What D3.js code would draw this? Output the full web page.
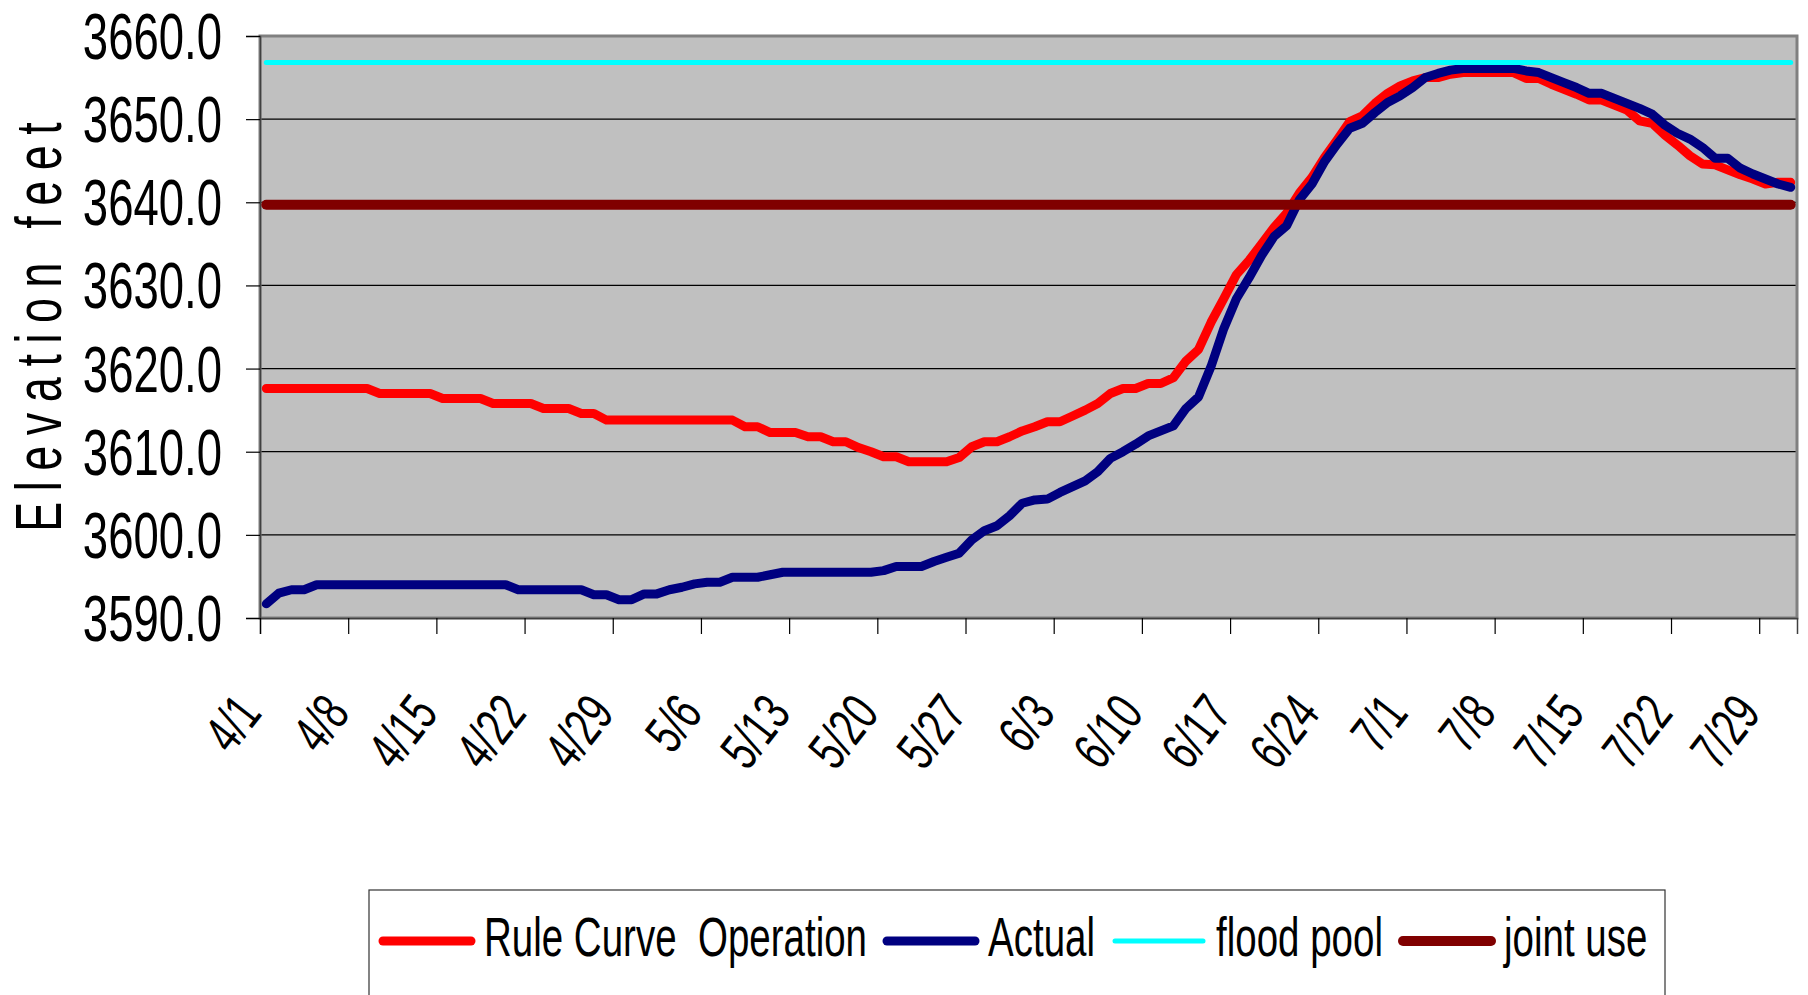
<!DOCTYPE html>
<html>
<head>
<meta charset="utf-8">
<script src="https://cdn.jsdelivr.net/npm/d3@7/dist/d3.min.js"></script>
<style>
  body { margin: 0; background: #fff; }
  text { font-family: "Liberation Sans", Arial, sans-serif; fill: #000; }
</style>
</head>
<body>
<div id="chart"></div>
<script>
// daily elevations, 4/1 .. 7/31
const ruleCurve = [
  3617.6,3617.6,3617.6,3617.6,3617.6,3617.6,3617.6,3617.6,3617.6,3617.0,
  3617.0,3617.0,3617.0,3617.0,3616.4,3616.4,3616.4,3616.4,3615.8,3615.8,
  3615.8,3615.8,3615.2,3615.2,3615.2,3614.6,3614.6,3613.8,3613.8,3613.8,
  3613.8,3613.8,3613.8,3613.8,3613.8,3613.8,3613.8,3613.8,3613.0,3613.0,
  3612.3,3612.3,3612.3,3611.8,3611.8,3611.2,3611.2,3610.5,3610.0,3609.4,
  3609.4,3608.8,3608.8,3608.8,3608.8,3609.3,3610.6,3611.2,3611.2,3611.8,
  3612.5,3613.0,3613.6,3613.6,3614.3,3615.0,3615.8,3617.0,3617.6,3617.6,
  3618.2,3618.2,3618.9,3620.9,3622.3,3625.6,3628.4,3631.3,3633.0,3635.0,
  3637.0,3638.7,3641.1,3643.0,3645.4,3647.5,3649.7,3650.4,3651.9,3653.1,
  3654.0,3654.6,3655.0,3655.0,3655.4,3655.6,3655.6,3655.6,3655.6,3655.6,
  3654.9,3654.9,3654.2,3653.6,3653.0,3652.3,3652.3,3651.7,3651.1,3649.8,
  3649.5,3648.1,3646.9,3645.6,3644.6,3644.5,3643.9,3643.3,3642.8,3642.2,
  3642.4,3642.4
];
const actual = [
  3591.7,3593.0,3593.4,3593.4,3594.0,3594.0,3594.0,3594.0,3594.0,3594.0,
  3594.0,3594.0,3594.0,3594.0,3594.0,3594.0,3594.0,3594.0,3594.0,3594.0,
  3593.4,3593.4,3593.4,3593.4,3593.4,3593.4,3592.8,3592.8,3592.2,3592.2,
  3592.9,3592.9,3593.4,3593.7,3594.1,3594.3,3594.3,3594.9,3594.9,3594.9,
  3595.2,3595.5,3595.5,3595.5,3595.5,3595.5,3595.5,3595.5,3595.5,3595.7,
  3596.2,3596.2,3596.2,3596.8,3597.3,3597.8,3599.4,3600.5,3601.1,3602.3,
  3603.8,3604.2,3604.3,3605.1,3605.8,3606.5,3607.6,3609.2,3610.0,3610.9,
  3611.9,3612.5,3613.1,3615.2,3616.6,3620.3,3624.8,3628.4,3630.9,3633.6,
  3635.9,3637.2,3640.3,3642.2,3644.9,3647.0,3648.9,3649.5,3650.8,3652.0,
  3652.8,3653.8,3655.0,3655.5,3655.9,3656.1,3656.1,3656.1,3656.1,3656.1,
  3655.8,3655.6,3655.0,3654.4,3653.8,3653.1,3653.1,3652.5,3651.9,3651.3,
  3650.6,3649.3,3648.3,3647.6,3646.6,3645.3,3645.3,3644.1,3643.4,3642.8,
  3642.2,3641.8
];
const floodPool = 3656.8;
const jointUse = 3639.7;

const firstDay = new Date(2006, 3, 1);
const days = d3.timeDay.range(firstDay, d3.timeDay.offset(firstDay, ruleCurve.length));

const tickLabels = ["4/1","4/8","4/15","4/22","4/29","5/6","5/13","5/20","5/27",
                    "6/3","6/10","6/17","6/24","7/1","7/8","7/15","7/22","7/29"];
const yTicks = [3590, 3600, 3610, 3620, 3630, 3640, 3650, 3660];

const seriesNames = ["Rule Curve  Operation", "Actual", "flood pool", "joint use"];
const seriesColors = ["#ff0000", "#000080", "#00ffff", "#800000"];
const seriesWidths = [9, 9, 5, 10];

const W = 1808, H = 995;
const margin = { top: 36, right: 11, bottom: 377, left: 260 };
const squeeze = 0.7;   // the original lettering is very narrow

const svg = d3.select("#chart").append("svg")
    .attr("width", W)
    .attr("height", H);

const x = d3.scaleLinear()
    .domain([0, days.length])
    .range([margin.left, W - margin.right]);
const y = d3.scaleLinear()
    .domain([3590, 3660])
    .range([H - margin.bottom, margin.top]);

const fmt = d3.timeFormat("%-m/%-d");
const tickIdx = tickLabels.map(l => days.findIndex(d => fmt(d) === l));

// plot area
svg.append("rect")
    .attr("x", x(0)).attr("y", y(3660))
    .attr("width", x(days.length) - x(0))
    .attr("height", y(3590) - y(3660))
    .attr("fill", "#c0c0c0");

svg.append("g")
    .selectAll("line")
    .data(yTicks.slice(1, -1))
    .enter().append("line")
        .attr("x1", x(0)).attr("x2", x(days.length))
        .attr("y1", d => y(d)).attr("y2", d => y(d))
        .attr("stroke", "#000")
        .attr("stroke-width", 1.2);

svg.append("rect")
    .attr("x", x(0)).attr("y", y(3660))
    .attr("width", x(days.length) - x(0))
    .attr("height", y(3590) - y(3660))
    .attr("fill", "none")
    .attr("stroke", "#808080")
    .attr("stroke-width", 3);

// axes
svg.append("g")
    .attr("transform", "translate(" + x(0) + ",0)")
    .call(d3.axisLeft(y).tickValues(yTicks).tickSize(14).tickFormat(""))
    .call(g => g.selectAll("line").attr("stroke", "#000").attr("stroke-width", 1.2))
    .call(g => g.select(".domain").attr("stroke", "#404040").attr("stroke-width", 1.5));

svg.append("g")
    .attr("transform", "translate(0," + y(3590) + ")")
    .call(d3.axisBottom(x).tickValues(tickIdx).tickSize(16).tickFormat(""))
    .call(g => g.selectAll("line").attr("stroke", "#000").attr("stroke-width", 1.2))
    .call(g => g.select(".domain").attr("stroke", "#404040").attr("stroke-width", 1.5));

// y tick labels
svg.append("g")
    .selectAll("text")
    .data(yTicks)
    .enter().append("text")
        .attr("transform", d => "translate(222," + (y(d) + 23) + ") scale(" + squeeze + ",1)")
        .attr("text-anchor", "end")
        .style("font-size", "65px")
        .text(d3.format(".1f"));

// x tick labels
svg.append("g")
    .selectAll("text")
    .data(tickIdx)
    .enter().append("text")
        .attr("transform", d => "translate(" + (x(d + 0.5) - 3) + ",714) rotate(-52) scale(" + squeeze + ",1)")
        .attr("text-anchor", "end")
        .style("font-size", "54px")
        .text((d, i) => tickLabels[i]);

// axis title
svg.append("text")
    .attr("transform", "translate(61," + ((y(3590) + y(3660)) / 2) + ") rotate(-90) scale(" + squeeze + ",1)")
    .attr("text-anchor", "middle")
    .attr("textLength", 585)
    .attr("lengthAdjust", "spacing")
    .style("font-size", "64px")
    .text("Elevation feet");

// series
let line = d3.line()
    .x((d, i) => x(i + 0.5))
    .y(d => y(d));

let series = [ruleCurve, actual,
              days.map(() => floodPool),
              days.map(() => jointUse)];

svg.append("g")
    .selectAll("path")
    .data(series)
    .enter().append("path")
        .attr("d", line)
        .attr("fill", "none")
        .attr("stroke", (d, i) => seriesColors[i])
        .attr("stroke-width", (d, i) => seriesWidths[i])
        .attr("stroke-linejoin", "round")
        .attr("stroke-linecap", "round");

// legend
svg.append("rect")
    .attr("x", 369).attr("y", 890)
    .attr("width", 1296).attr("height", 140)
    .attr("fill", "#fff")
    .attr("stroke", "#333")
    .attr("stroke-width", 1.2);

let lx = 383;
seriesNames.forEach(function(name, i) {
    svg.append("line")
        .attr("x1", lx).attr("x2", lx + 88)
        .attr("y1", 941).attr("y2", 941)
        .attr("stroke", seriesColors[i])
        .attr("stroke-width", seriesWidths[i])
        .attr("stroke-linecap", "round");
    let t = svg.append("text")
        .attr("transform", "translate(" + (lx + 101) + ",956) scale(" + squeeze + ",1)")
        .attr("xml:space", "preserve")
        .style("white-space", "pre")
        .style("font-size", "55px")
        .text(name);
    lx += 101 + t.node().getComputedTextLength() * squeeze + 20;
});
</script>
</body>
</html>
